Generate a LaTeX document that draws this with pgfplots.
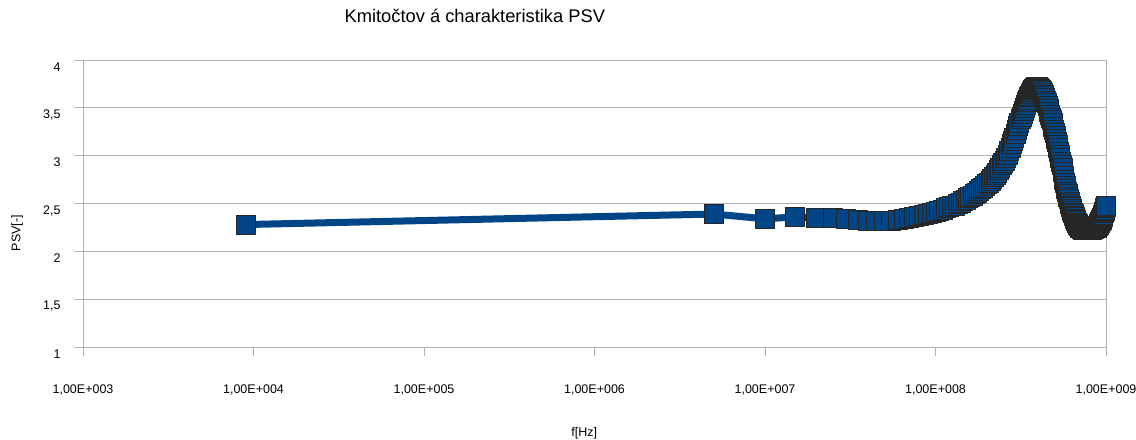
\documentclass[border=0pt]{standalone}
\usepackage{fontspec}
\setmainfont{Liberation Sans}
\usepackage{pgfplots}
\pgfplotsset{compat=1.18}
\definecolor{psvblue}{HTML}{004586}
\definecolor{gridgray}{HTML}{B3B3B3}
\begin{document}
\begin{tikzpicture}
\begin{axis}[
  scale only axis, width=1023pt, height=287pt,
  xmode=log, log basis x=10,
  xmin=1e3, xmax=1e9, ymin=1, ymax=4,
  xtick={1e3,1e4,1e5,1e6,1e7,1e8,1e9},
  xticklabels={{1,00E+003},{1,00E+004},{1,00E+005},{1,00E+006},{1,00E+007},{1,00E+008},{1,00E+009}},
  xminorticks=false,
  ytick={1,1.5,2,2.5,3,3.5,4},
  yticklabels={1,{1,5},2,{2,5},3,{3,5},4},
  ymajorgrids, xmajorgrids=false,
  major grid style={gridgray, line width=1pt},
  axis line style={gridgray, line width=1pt},
  every tick/.style={gridgray, line width=1pt},
  tick align=outside, major tick length=9pt,
  tick pos=left,
  tick label style={font=\fontsize{12.5}{14}\selectfont, text=black},
  xticklabel style={anchor=center, yshift=-34pt},
  yticklabel style={anchor=east, xshift=-10pt, yshift=-7pt},
  title={Kmitočtov á charakteristika PSV},
  title style={at={(axis description cs:0.383,1.132)}, anchor=center, font=\fontsize{18.3}{22}\selectfont},
  xlabel={f[Hz]},
  xlabel style={at={(axis description cs:0.49,-0.30)}, anchor=center, font=\fontsize{12.5}{14}\selectfont},
  ylabel={PSV[-]},
  ylabel style={at={(axis description cs:-0.0645,0.397)}, anchor=center, rotate=0, font=\fontsize{12.5}{14}\selectfont},
  clip=false,
]
\addplot[psvblue, line width=7pt, line join=round,
  mark=square*, mark size=9.5pt,
  mark options={fill=psvblue, draw=black!85, line width=0.8pt}]
coordinates {
(9e3,2.28) (5e6,2.39)
(10e6,2.34) (15e6,2.36) (20e6,2.35) (25e6,2.35) (30e6,2.34) (35e6,2.33) (40e6,2.32) (45e6,2.32)
(50e6,2.32) (55e6,2.32) (60e6,2.33) (65e6,2.34) (70e6,2.35) (75e6,2.36) (80e6,2.37) (85e6,2.38)
(90e6,2.39) (95e6,2.40) (100e6,2.41) (105e6,2.42) (110e6,2.43) (115e6,2.45) (120e6,2.46) (125e6,2.47)
(130e6,2.48) (135e6,2.50) (140e6,2.51) (145e6,2.53) (150e6,2.54) (155e6,2.56) (160e6,2.57) (165e6,2.58)
(170e6,2.60) (175e6,2.61) (180e6,2.63) (185e6,2.65) (190e6,2.66) (195e6,2.68) (200e6,2.70) (205e6,2.72)
(210e6,2.74) (215e6,2.76) (220e6,2.78) (225e6,2.80) (230e6,2.82) (235e6,2.85) (240e6,2.87) (245e6,2.90)
(250e6,2.92) (255e6,2.95) (260e6,2.98) (265e6,3.01) (270e6,3.05) (275e6,3.08) (280e6,3.12) (285e6,3.15)
(290e6,3.19) (295e6,3.23) (300e6,3.27) (305e6,3.31) (310e6,3.34) (315e6,3.38) (320e6,3.41) (325e6,3.44)
(330e6,3.47) (335e6,3.50) (340e6,3.53) (345e6,3.56) (350e6,3.58) (355e6,3.61) (360e6,3.63) (365e6,3.65)
(370e6,3.67) (375e6,3.69) (380e6,3.70) (385e6,3.71) (390e6,3.72) (395e6,3.72) (400e6,3.72) (405e6,3.71)
(410e6,3.70) (415e6,3.69) (420e6,3.68) (425e6,3.66) (430e6,3.64) (435e6,3.62) (440e6,3.60) (445e6,3.57)
(450e6,3.55) (455e6,3.52) (460e6,3.49) (465e6,3.46) (470e6,3.43) (475e6,3.40) (480e6,3.37) (485e6,3.34)
(490e6,3.30) (495e6,3.27) (500e6,3.24) (505e6,3.21) (510e6,3.18) (515e6,3.14) (520e6,3.11) (525e6,3.08)
(530e6,3.04) (535e6,3.01) (540e6,2.98) (545e6,2.94) (550e6,2.90) (555e6,2.87) (560e6,2.83) (565e6,2.79)
(570e6,2.75) (575e6,2.72) (580e6,2.68) (585e6,2.65) (590e6,2.62) (595e6,2.60) (600e6,2.57) (605e6,2.55)
(610e6,2.52) (615e6,2.50) (620e6,2.48) (625e6,2.46) (630e6,2.44) (635e6,2.42) (640e6,2.40) (645e6,2.39)
(650e6,2.37) (655e6,2.36) (660e6,2.34) (665e6,2.33) (670e6,2.32) (675e6,2.30) (680e6,2.29) (685e6,2.28)
(690e6,2.27) (695e6,2.27) (700e6,2.26) (705e6,2.25) (710e6,2.25) (715e6,2.24) (720e6,2.24) (725e6,2.23)
(730e6,2.23) (735e6,2.22) (740e6,2.22) (745e6,2.22) (750e6,2.22) (755e6,2.22) (760e6,2.22) (765e6,2.22)
(770e6,2.22) (775e6,2.22) (780e6,2.22) (785e6,2.22) (790e6,2.22) (795e6,2.22) (800e6,2.22) (805e6,2.22)
(810e6,2.22) (815e6,2.22) (820e6,2.22) (825e6,2.22) (830e6,2.22) (835e6,2.23) (840e6,2.23) (845e6,2.23)
(850e6,2.24) (855e6,2.24) (860e6,2.24) (865e6,2.25) (870e6,2.25) (875e6,2.25) (880e6,2.25) (885e6,2.26)
(890e6,2.26) (895e6,2.27) (900e6,2.27) (905e6,2.28) (910e6,2.29) (915e6,2.30) (920e6,2.30) (925e6,2.31)
(930e6,2.32) (935e6,2.33) (940e6,2.33) (945e6,2.34) (950e6,2.35) (955e6,2.36) (960e6,2.37) (965e6,2.38)
(970e6,2.40) (975e6,2.41) (980e6,2.42) (985e6,2.43) (990e6,2.45) (995e6,2.46) (1000e6,2.47)
};
\end{axis}
\pgfresetboundingbox
\path[use as bounding box] ([shift={(-83pt,-92pt)}]current axis.south west) rectangle ([shift={(30pt,60pt)}]current axis.north east);
\end{tikzpicture}
\end{document}
